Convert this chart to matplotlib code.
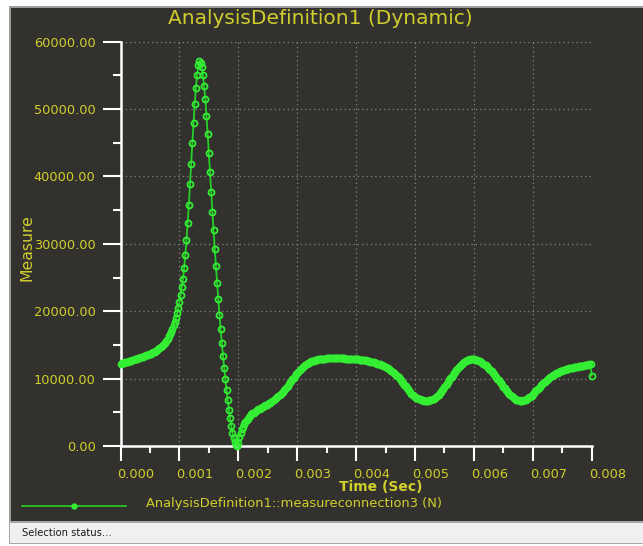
import numpy as np
import matplotlib
matplotlib.use("Agg")
import matplotlib.pyplot as plt
from matplotlib.patches import Rectangle
from matplotlib.lines import Line2D
from matplotlib.transforms import ScaledTranslation

# ---------------- data ----------------
title = "AnalysisDefinition1 (Dynamic)"
x_label = "Time (Sec)"
y_label = "Measure"
series_name = "AnalysisDefinition1::measureconnection3 (N)"
status_text = "Selection status..."

x_ticks = [0.000, 0.001, 0.002, 0.003, 0.004, 0.005, 0.006, 0.007, 0.008]
x_tick_labels = ["0.000", "0.001", "0.002", "0.003", "0.004", "0.005", "0.006", "0.007", "0.008"]
y_ticks = [0, 10000, 20000, 30000, 40000, 50000, 60000]
y_tick_labels = ["0.00", "10000.00", "20000.00", "30000.00", "40000.00", "50000.00", "60000.00"]

# sample times (s): simulation output every 0.00002 s from 0 to 0.008
time_s = np.linspace(0.0, 0.008, 401)

# measured force (N), one value per sample time (rows of 10 = 0.0002 s)
force_n = [
    12200, 12250, 12300, 12350, 12400, 12450, 12500, 12560, 12620, 12680,
    12740, 12800, 12860, 12920, 12980, 13040, 13100, 13160, 13220, 13280,
    13340, 13400, 13460, 13520, 13580, 13650, 13720, 13800, 13890, 13990,
    14100, 14220, 14350, 14490, 14640, 14800, 14970, 15150, 15350, 15620,
    15950, 16280, 16620, 16970, 17400, 17900, 18450, 19050, 19700, 20500,
    21400, 22400, 23600, 24800, 26400, 28400, 30500, 33100, 35800, 38900,
    41800, 45000, 47900, 50800, 53100, 55000, 56500, 57100, 56900, 56200,
    55000, 53400, 51500, 49000, 46300, 43500, 40600, 37700, 34800, 32000,
    29300, 26700, 24200, 21800, 19500, 17300, 15300, 13400, 11600, 9900,
    8300, 6800, 5400, 4100, 3000, 2000, 1200, 600, 200, 50,
    500, 1400, 2000, 2450, 2850, 3200, 3500, 3800, 4050, 4300,
    4500, 4680, 4830, 4970, 5100, 5220, 5330, 5430, 5530, 5630,
    5730, 5830, 5930, 6030, 6130, 6230, 6340, 6450, 6560, 6680,
    6800, 6930, 7060, 7200, 7350, 7510, 7680, 7860, 8050, 8250,
    8500, 8720, 8950, 9190, 9430, 9670, 9910, 10150, 10390, 10620,
    10840, 11050, 11250, 11440, 11610, 11770, 11920, 12050, 12170, 12280,
    12380, 12470, 12550, 12620, 12680, 12730, 12770, 12810, 12840, 12870,
    12900, 12920, 12940, 12960, 12980, 12990, 13000, 13010, 13020, 13030,
    13030, 13030, 13030, 13030, 13020, 13020, 13010, 13010, 13000, 13000,
    12990, 12980, 12970, 12960, 12950, 12940, 12930, 12920, 12910, 12900,
    12880, 12860, 12840, 12820, 12800, 12780, 12750, 12720, 12690, 12660,
    12620, 12580, 12540, 12500, 12450, 12400, 12350, 12290, 12230, 12160,
    12100, 12030, 11960, 11890, 11810, 11730, 11640, 11540, 11430, 11310,
    11180, 11040, 10890, 10730, 10560, 10380, 10190, 9990, 9780, 9560,
    9330, 9100, 8860, 8620, 8390, 8170, 7960, 7770, 7590, 7430,
    7320, 7190, 7080, 6990, 6910, 6850, 6800, 6770, 6750, 6740,
    6730, 6740, 6760, 6800, 6860, 6940, 7040, 7160, 7300, 7460,
    7640, 7840, 8050, 8270, 8500, 8740, 8990, 9240, 9500, 9760,
    10020, 10280, 10540, 10790, 11030, 11260, 11480, 11690, 11880, 12060,
    12220, 12370, 12500, 12610, 12700, 12770, 12820, 12850, 12860, 12860,
    12850, 12830, 12790, 12730, 12660, 12570, 12470, 12350, 12220, 12070,
    11950, 11800, 11630, 11460, 11280, 11090, 10890, 10680, 10460, 10230,
    10000, 9770, 9530, 9290, 9050, 8810, 8580, 8350, 8130, 7920,
    7720, 7540, 7370, 7220, 7090, 6980, 6890, 6820, 6770, 6740,
    6730, 6740, 6770, 6820, 6890, 6980, 7080, 7200, 7330, 7470,
    7750, 7930, 8110, 8290, 8470, 8650, 8830, 9000, 9170, 9340,
    9500, 9660, 9810, 9960, 10100, 10230, 10360, 10480, 10590, 10700,
    10800, 10890, 10980, 11060, 11130, 11200, 11260, 11320, 11370, 11420,
    11470, 11510, 11550, 11590, 11630, 11670, 11700, 11740, 11770, 11800,
    11840, 11870, 11900, 11940, 11970, 12010, 12040, 12080, 12120, 12160,
    10450,
]

# ---------------- style ----------------
W, H = 643, 546
BG = "#32312e"
YEL = "#d0ce2c"
GREEN_LINE = "#26cf26"
GREEN_MK = "#34ee34"


def fx(x):
    return x / W


def fy(y):
    return 1 - y / H


fig = plt.figure(figsize=(W / 100, H / 100), dpi=100, facecolor="white")

# window frame
fig.add_artist(Rectangle((fx(9), fy(522)), fx(W - 9), fy(6) - fy(522),
                         transform=fig.transFigure, facecolor="#9c9c9c",
                         edgecolor="none", zorder=-3))
fig.add_artist(Rectangle((fx(11), fy(521)), fx(W - 11), fy(8) - fy(521),
                         transform=fig.transFigure, facecolor=BG,
                         edgecolor="none", zorder=-2))
# status bar
fig.add_artist(Rectangle((fx(9), fy(544)), fx(W - 9), fy(521) - fy(544),
                         transform=fig.transFigure, facecolor="#a8a8a8",
                         edgecolor="none", zorder=-2))
fig.add_artist(Rectangle((fx(10), fy(543)), fx(W - 10), fy(522.5) - fy(543),
                         transform=fig.transFigure, facecolor="#f0f0f0",
                         edgecolor="none", zorder=-1))
fig.text(fx(22), fy(533), status_text, fontsize=7.2, color="#1a1a1a",
         ha="left", va="center")

# axes
x0, x1, y0, y1 = 120.5, 591.7, 446.0, 41.7
ax = fig.add_axes([fx(x0), fy(y0), fx(x1 - x0), (y0 - y1) / H])
ax.set_facecolor("none")
ax.set_xlim(0, 0.008)
ax.set_ylim(0, 60000)

ax.plot(time_s, force_n, color=GREEN_LINE, lw=1.3, marker="o", ms=4.3,
        mfc="none", mec=GREEN_MK, mew=1.3, clip_on=False, zorder=3)

for side in ("top", "right"):
    ax.spines[side].set_visible(False)
for side in ("left", "bottom"):
    ax.spines[side].set_color("white")
    ax.spines[side].set_linewidth(1.8)

ax.set_xticks(x_ticks)
ax.set_xticklabels(x_tick_labels)
ax.set_yticks(y_ticks)
ax.set_yticklabels(y_tick_labels)
ax.set_xticks(np.arange(0.0005, 0.008, 0.001), minor=True)
ax.set_yticks(np.arange(5000, 60000, 10000), minor=True)

ax.tick_params(axis="y", which="major", length=13, width=1.5, color="white",
               labelcolor=YEL, labelsize=9.3, pad=5)
ax.tick_params(axis="y", which="minor", length=6, width=1.5, color="white")
ax.tick_params(axis="x", which="major", length=11, width=1.5, color="white",
               labelcolor=YEL, labelsize=9.3, pad=5)
ax.tick_params(axis="x", which="minor", length=5, width=1.5, color="white")

shift = ScaledTranslation(-3 / 100, 0, fig.dpi_scale_trans)
for lab in ax.get_xticklabels():
    lab.set_horizontalalignment("left")
    lab.set_transform(lab.get_transform() + shift)

ax.grid(True, which="major", color="#858580", linestyle=(0, (1, 2.5)),
        linewidth=0.9)
ax.set_axisbelow(True)

# texts
fig.text(fx(320), fy(18), title, ha="center", va="center", color=YEL,
         fontsize=14.5)
fig.text(fx(27), fy(248), y_label, ha="center", va="center", color=YEL,
         fontsize=11.3, rotation=90)
fig.text(fx(381), fy(487), x_label, ha="center", va="center", color=YEL,
         fontsize=10, fontweight="bold")

# legend
fig.add_artist(Line2D([fx(22), fx(126)], [fy(506), fy(506)],
                      transform=fig.transFigure, color=GREEN_LINE, lw=1.2))
fig.add_artist(Line2D([fx(74)], [fy(506)], transform=fig.transFigure,
                      color=GREEN_LINE, marker="o", ms=3.5, mfc=GREEN_MK,
                      mec=GREEN_MK, lw=0))
fig.text(fx(146), fy(503), series_name, ha="left", va="center", color=YEL,
         fontsize=9.4)

fig.savefig("out.png", dpi=100, facecolor="white")
